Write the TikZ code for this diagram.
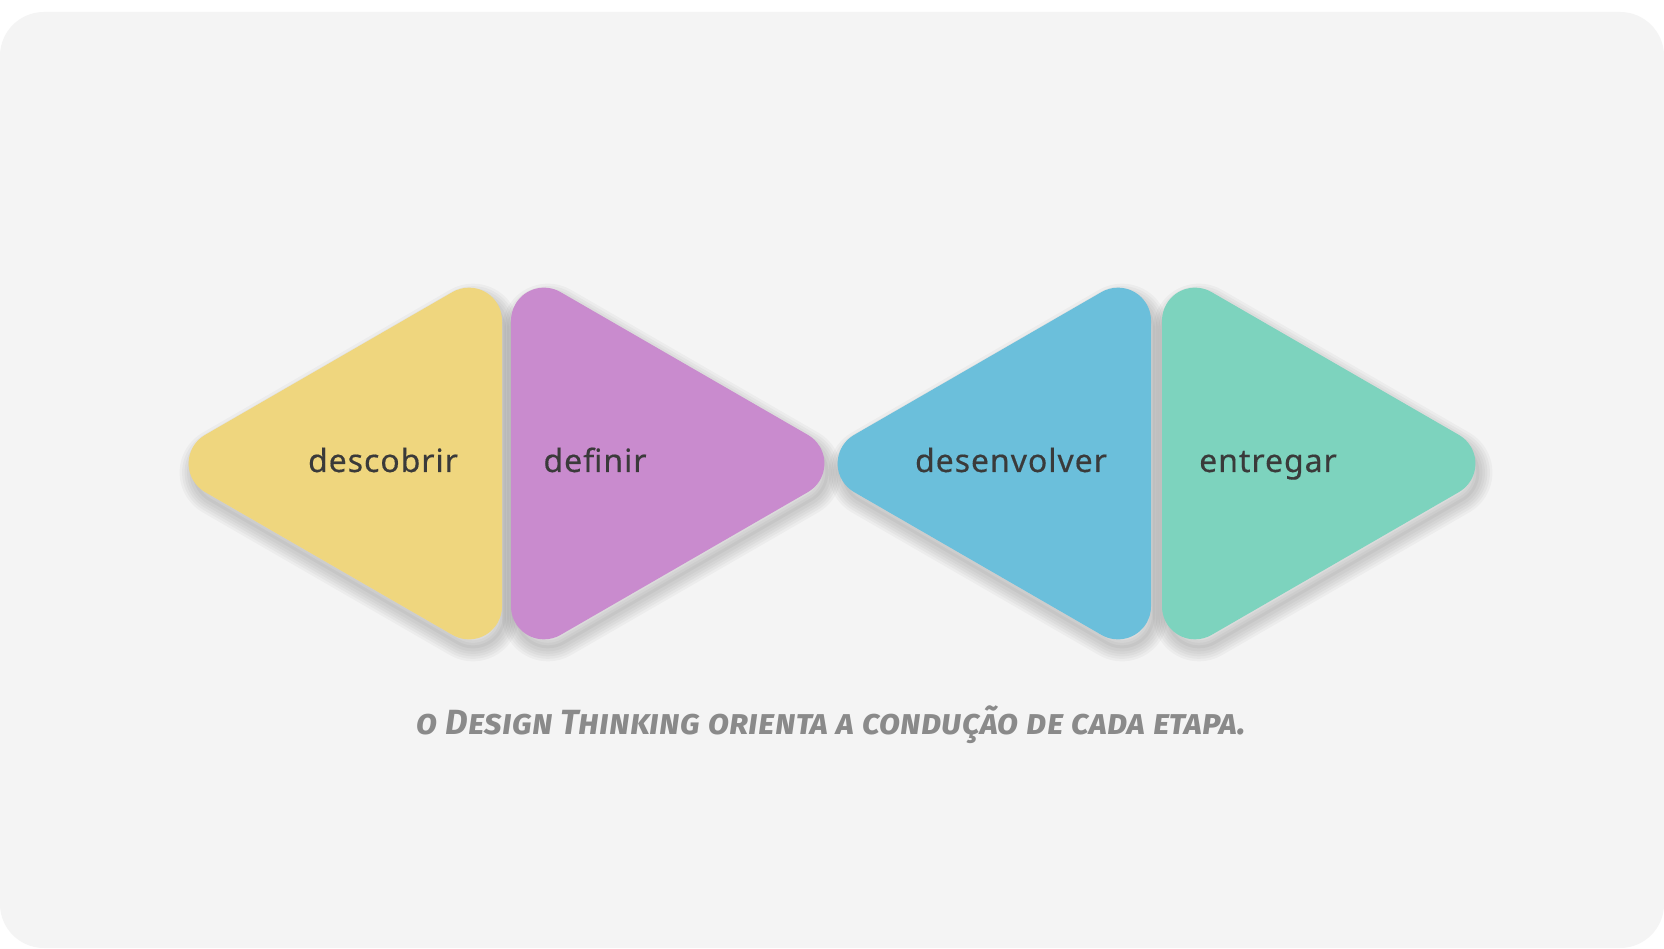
\documentclass[tikz,border=0pt]{standalone}
\usepackage{fontspec}
\setmainfont{Noto Sans}
\newfontfamily\labfont[LetterSpace=3,FakeBold=0.4]{Noto Sans}
\newfontfamily\capfont[Letters=SmallCaps]{Fira Sans}
\definecolor{bgcol}{HTML}{F4F4F4}
\definecolor{ycol}{HTML}{EFD67E}
\definecolor{pcol}{HTML}{C98BCE}
\definecolor{bcol}{HTML}{6BBFDB}
\definecolor{gcol}{HTML}{7DD3BE}
\definecolor{txtcol}{HTML}{3A3A3A}
\definecolor{capcol}{HTML}{8A8A8A}
\tikzset{
  shadowring/.style={draw=black, draw opacity=0.032, line width=#1, line join=round},
  shadowcore/.style={fill=black, fill opacity=0.035},
  label/.style={text=txtcol, font=\labfont\fontsize{32}{38}\selectfont, anchor=base, inner sep=0pt},
  caption/.style={text=capcol, font=\capfont\itshape\bfseries\fontsize{35}{42}\selectfont, anchor=base, inner sep=0pt}
}
\newcommand{\lpath}{(0,-142.84) -- (0,142.84) arc[start angle=0,end angle=120,radius=33]
     -- (-296.91,28.58) arc[start angle=120,end angle=240,radius=33]
     -- (-49.5,-171.42) arc[start angle=240,end angle=360,radius=33] -- cycle}
\newcommand{\rpath}{(0,142.84) -- (0,-142.84) arc[start angle=180,end angle=300,radius=33]
     -- (296.91,-28.58) arc[start angle=300,end angle=420,radius=33]
     -- (49.5,171.42) arc[start angle=60,end angle=180,radius=33] -- cycle}
\newcommand{\softshadow}[1]{%
  \begin{scope}[shift={(4,-9)}]
  \path[shadowcore] #1;
  \foreach \w in {26,21,16,11,6} {\path[shadowring=\w pt] #1;}
  \end{scope}}
\newcommand{\lefttri}[2]{%
  \begin{scope}[shift={(#1,484.5)}]
  \softshadow{\lpath}
  \fill[#2] \lpath;
  \end{scope}}
\newcommand{\righttri}[2]{%
  \begin{scope}[shift={(#1,484.5)}]
  \softshadow{\rpath}
  \fill[#2] \rpath;
  \end{scope}}
\begin{document}
\begin{tikzpicture}[x=1pt,y=1pt]
\useasboundingbox (0,0) rectangle (1664,948);
\fill[white] (0,0) rectangle (1664,948);
\fill[bgcol, rounded corners=44pt] (0,0) rectangle (1664,936);
\lefttri{502}{ycol}
\righttri{511}{pcol}
\lefttri{1151}{bcol}
\righttri{1162}{gcol}
\node[label] (descobrir) at (383,476) {descobrir};
\node[label] (definir) at (595,476) {definir};
\node[label] (desenvolver) at (1011,476) {desenvolver};
\node[label] (entregar) at (1268,476) {entregar};
\node[caption] (cap) at (831.5,214) {o Design Thinking orienta a condução de cada etapa.};
\end{tikzpicture}
\end{document}
